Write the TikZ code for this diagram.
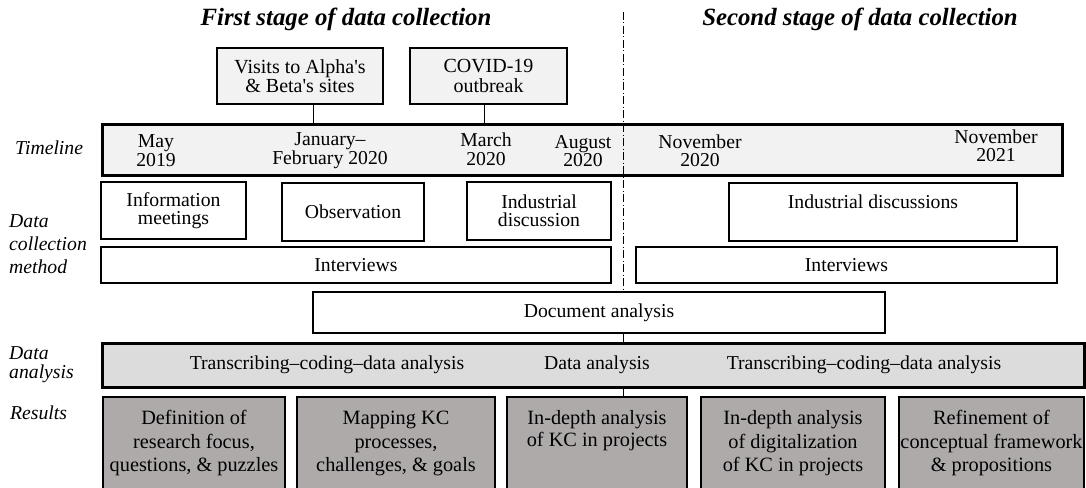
\documentclass[tikz,border=0pt]{standalone}
\usepackage{fontspec}
\setmainfont{Liberation Serif}
\definecolor{tlgray}{HTML}{F2F2F2}
\definecolor{bargray}{HTML}{DCDCDC}
\definecolor{resgray}{HTML}{AEAAAA}
\begin{document}
\begin{tikzpicture}[x=1pt,y=-1pt,
  base/.style={font=\fontsize{19.7}{18.5}\selectfont, align=center, inner sep=0pt},
  bx/.style={base, draw=black, line width=2.8pt, fill=white},
  resbox/.style={bx, fill=resgray, font=\fontsize{20.3}{23.5}\selectfont, minimum height=93pt},
  lab/.style={font=\itshape\fontsize{19.7}{23}\selectfont, align=left, inner sep=0pt, anchor=west},
  ttl/.style={font=\bfseries\itshape\fontsize{24.8}{28}\selectfont, inner sep=0pt},
  conn/.style={line width=1pt},
  dd/.style={line width=0.9pt, dash pattern=on 8pt off 2.5pt on 1pt off 2.5pt}]
\useasboundingbox (0,0) rectangle (1086,487);
% titles
\node[ttl] (t1) at (346,19) {First stage of data collection};
\node[ttl] (t2) at (860,19) {Second stage of data collection};
% events
\node[bx, fill=tlgray, minimum width=166pt, minimum height=56pt, font=\fontsize{20}{19.5}\selectfont] (visits) at (300,76) {Visits to Alpha\textquotesingle s\\\& Beta\textquotesingle s sites};
\node[bx, fill=tlgray, minimum width=157pt, minimum height=56pt, font=\fontsize{20}{19.5}\selectfont] (covid) at (488.5,76) {COVID-19\\outbreak};
% timeline
\node[bx, fill=tlgray, line width=3pt, minimum width=960pt, minimum height=51pt] (timeline) at (582,149.5) {};
\coordinate (v1) at (313,124);
\coordinate (v2) at (484,124);
\draw[conn] (visits.south -| v1) -- (timeline.north -| v1);
\draw[conn] (covid.south -| v2) -- (timeline.north -| v2);
\node[base] (may) at (156,150.5) {May\\2019};
\node[base] (jan) at (330,150.5) {January–\\February 2020};
\node[base] (mar) at (486,149.5) {March\\2020};
\node[base] (aug) at (583,151) {August\\2020};
\node[base] (nov1) at (700,151) {November\\2020};
\node[base] (nov2) at (996,146) {November\\2021};
% row labels
\node[lab] (ltl) at (15,148) {Timeline};
\node[lab] (ldc) at (9,244) {Data\\collection\\method};
\node[lab, font=\itshape\fontsize{19.7}{19}\selectfont] (lda) at (9,365) {Data\\analysis};
\node[lab] (lres) at (10,413) {Results};
% dash-dot separator
\node[bx, minimum width=572pt, minimum height=41pt] (doc) at (599,312.5) {Document analysis};
\coordinate (dtop) at (623,12);
\draw[dd] (dtop) -- (dtop |- doc.north);
% data collection methods
\node[bx, minimum width=145pt, minimum height=57pt] (info) at (173.5,210.5) {Information\\meetings};
\node[bx, minimum width=142pt, minimum height=58pt] (obs) at (353,212) {Observation};
\node[bx, minimum width=144pt, minimum height=58pt] (ind1) at (539,211) {Industrial\\discussion};
\node[bx, minimum width=288pt, minimum height=58pt] (ind2) at (873,212) {};
\node[base] (ind2t) at (873,202) {Industrial discussions};
\node[bx, minimum width=510pt, minimum height=36pt] (int1) at (356,265) {Interviews};
\node[bx, minimum width=421pt, minimum height=36pt] (int2) at (846.5,265) {Interviews};
% data analysis
\node[bx, fill=bargray, line width=3pt, minimum width=982pt, minimum height=44pt] (bar) at (593,365) {};
\node[base] (da1) at (327,365) {Transcribing–coding–data analysis};
\node[base] (da2) at (597,365) {Data analysis};
\node[base] (da3) at (864,365) {Transcribing–coding–data analysis};
% results
\node[resbox, minimum width=182pt] (r1) at (194,443.5) {Definition of\\research focus,\\questions, \& puzzles};
\node[resbox, minimum width=198pt] (r2) at (396,443.5) {Mapping KC\\processes,\\challenges, \& goals};
\node[resbox, minimum width=180pt] (r3) at (597,443.5) {};
\node[base, font=\fontsize{20.3}{22.5}\selectfont, anchor=north] (r3t) at (597,410) {In-depth analysis\\of KC in projects};
\node[resbox, minimum width=184pt] (r4) at (793,443.5) {In-depth analysis\\of digitalization\\of KC in projects};
\node[resbox, minimum width=185pt] (r5) at (991.5,443.5) {Refinement of\\conceptual framework\\\& propositions};
\draw[conn] (dtop |- doc.south) -- (dtop |- bar.north);
\draw[conn] (dtop |- bar.south) -- (dtop |- r3.north);
\end{tikzpicture}
\end{document}
